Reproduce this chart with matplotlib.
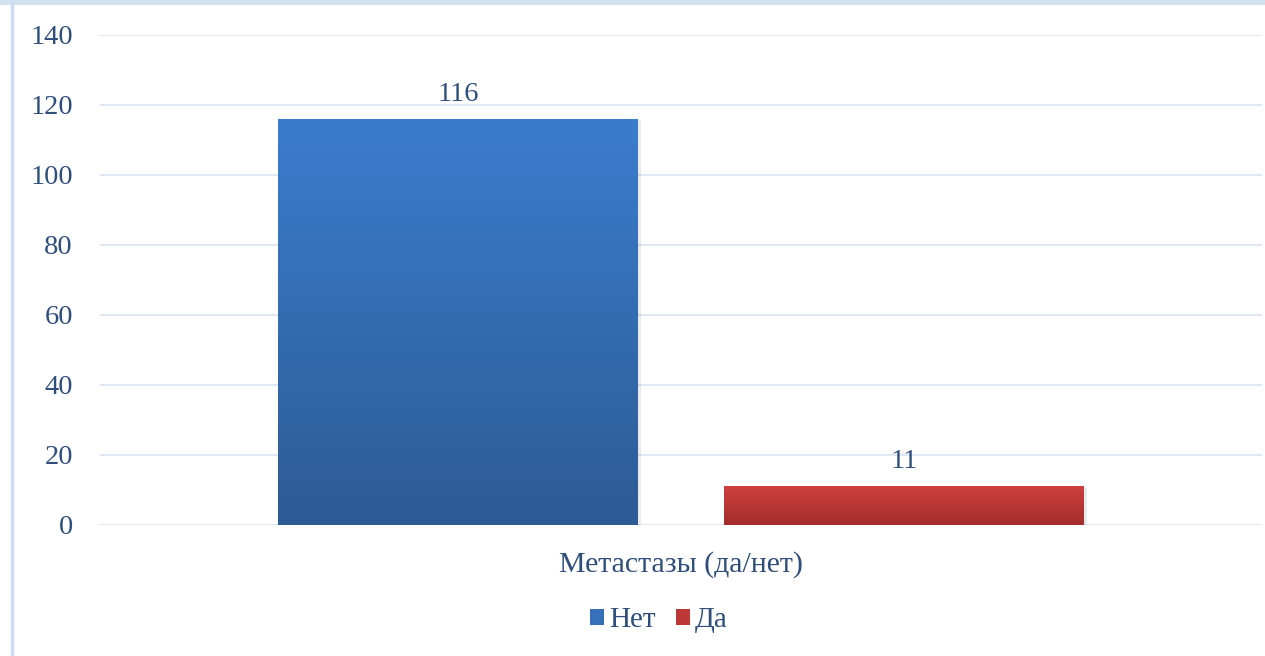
import matplotlib
matplotlib.use("Agg")
import matplotlib.pyplot as plt
import numpy as np
from matplotlib.patches import Patch
from matplotlib.colors import LinearSegmentedColormap

category = "Метастазы (да/нет)"
series_names = ["Нет", "Да"]
values = [116, 11]
yticks = [0, 20, 40, 60, 80, 100, 120, 140]

top_colors = ["#3B7DCD", "#CF403D"]
bottom_colors = ["#2D5B95", "#A12D2B"]
mid_colors = ["#3670B8", "#BC3836"]
text_color = "#2E4E7C"
grid_color = "#DCE6F3"

plt.rcParams['font.family'] = ['Liberation Serif', 'DejaVu Serif']

fig = plt.figure(figsize=(12.65, 6.56), dpi=100)
fig.patch.set_facecolor("white")

# frame decorations (left line and top band)
fig.add_artist(plt.Line2D([11.5/1265, 11.5/1265], [0, 1], color="#CCDDF1", lw=2.5, transform=fig.transFigure))
fig.add_artist(plt.Rectangle((0, 1 - 5/656), 1, 5/656, color="#D3E0EE", transform=fig.transFigure, lw=0))

ax = fig.add_axes([100/1265, 131/656, 1162/1265, 490/656])
ax.set_xlim(-0.5, 0.5)
ax.set_ylim(0, 140)
ax.set_yticks(yticks)
ax.set_xticks([])
for s in ax.spines.values():
    s.set_visible(False)
ax.grid(axis="y", color=grid_color, lw=1.3)
ax.set_axisbelow(True)
ax.tick_params(axis="y", length=0, pad=19.5, labelsize=20.5, labelcolor=text_color)

width = 360 / 1162
offsets = [-223 / 1162, 223 / 1162]
grad = np.linspace(1, 0, 256).reshape(-1, 1)
for i, (v, off) in enumerate(zip(values, offsets)):
    cmap = LinearSegmentedColormap.from_list("g%d" % i, [bottom_colors[i], top_colors[i]])
    x0, x1 = off - width / 2, off + width / 2
    # shadow
    ax.bar(off + 0.003, v, width=width, bottom=-0.4, color="#000000", alpha=0.08, zorder=2)
    ax.imshow(grad, extent=[x0, x1, 0, v], aspect="auto", cmap=cmap, zorder=3, interpolation="bicubic")
    ax.text(off, v + 3.5, str(v), ha="center", va="bottom", fontsize=20.5, color=text_color, zorder=4)
ax.set_xlim(-0.5, 0.5)
ax.set_ylim(0, 140)

ax.set_xlabel(category, fontsize=21.5, color=text_color, labelpad=19)

handles = [Patch(facecolor=mid_colors[i], edgecolor="none", label=series_names[i]) for i in range(2)]
leg = fig.legend(handles=handles, loc="center", bbox_to_anchor=(659/1265, 1 - 620/656), ncol=2, frameon=False,
                 fontsize=21, handlelength=0.48, handleheight=0.48, handletextpad=0.17, columnspacing=0.7)
for t in leg.get_texts():
    t.set_color(text_color)

fig.savefig("out.png", dpi=100, facecolor="white")
